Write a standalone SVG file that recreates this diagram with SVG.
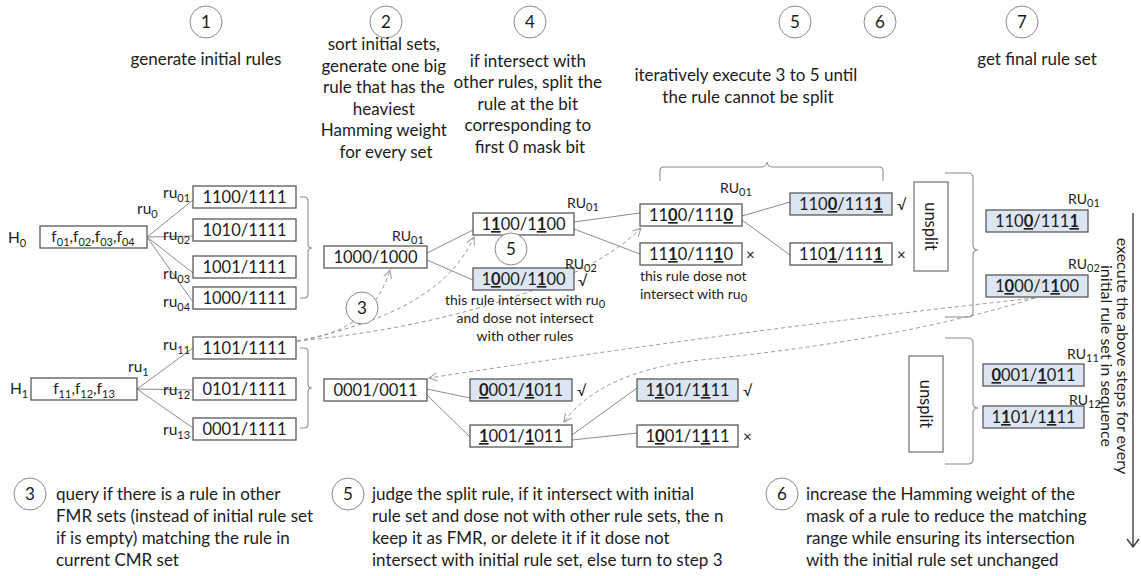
<svg xmlns="http://www.w3.org/2000/svg" width="1141" height="576" viewBox="0 0 1141 576">
  <style>
    text { font-family: Lato, "Open Sans", "Liberation Sans", sans-serif; fill: #1c1c1c; }
    .cap { font-size: 17px; text-anchor: middle; }
    .note { font-size: 17px; }
    .small { font-size: 14px; }
    .lbl { font-size: 15.5px; }
    .lbs { font-size: 11px; }
    .rl { font-size: 16.5px; text-anchor: middle; }
    .u { font-weight: 700; text-decoration: underline; }
    .box { fill: #ffffff; stroke: #595959; stroke-width: 1.3; }
    .hl { fill: #dce6f2; stroke: #595959; stroke-width: 1.3; }
    .step { fill: #ffffff; stroke: #8a8a8a; stroke-width: 1; }
    .stepn { font-size: 17px; text-anchor: middle; }
    .conn { fill: none; stroke: #8c8c8c; stroke-width: 1; }
    .brace { fill: none; stroke: #8c8c8c; stroke-width: 1.1; }
    .dash { fill: none; stroke: #9a9a9a; stroke-width: 1; stroke-dasharray: 4 3; marker-end: url(#open); }
    .mark { font-size: 15px; }
  </style>
  <defs>
    <marker id="open" markerUnits="userSpaceOnUse" markerWidth="12" markerHeight="12" refX="9" refY="5" orient="auto">
      <path d="M1,1 L9,5 L1,9" fill="none" stroke="#9a9a9a" stroke-width="1"/>
    </marker>
  </defs>

  <!-- step numbers and captions -->
  <g id="steps">
    <circle class="step" cx="206" cy="22" r="16"/><text class="stepn" x="206" y="28">1</text>
    <circle class="step" cx="386" cy="22" r="16"/><text class="stepn" x="386" y="28">2</text>
    <circle class="step" cx="530" cy="22" r="16"/><text class="stepn" x="530" y="28">4</text>
    <circle class="step" cx="795" cy="22" r="16"/><text class="stepn" x="795" y="28">5</text>
    <circle class="step" cx="880" cy="22" r="16"/><text class="stepn" x="880" y="28">6</text>
    <circle class="step" cx="1022" cy="22" r="16"/><text class="stepn" x="1022" y="28">7</text>

    <text class="cap" x="206" y="65">generate initial rules</text>
    <text class="cap" x="386">
      <tspan x="386" y="50">sort initial sets,</tspan>
      <tspan x="386" y="72">generate one big</tspan>
      <tspan x="386" y="93">rule that has the</tspan>
      <tspan x="386" y="115">heaviest</tspan>
      <tspan x="386" y="136">Hamming weight</tspan>
      <tspan x="386" y="158">for every set</tspan>
    </text>
    <text class="cap" x="530">
      <tspan x="530" y="67">if intersect with</tspan>
      <tspan x="530" y="88">other rules, split the</tspan>
      <tspan x="530" y="110">rule at the bit</tspan>
      <tspan x="530" y="131">corresponding to</tspan>
      <tspan x="530" y="153">first 0 mask bit</tspan>
    </text>
    <text class="cap" x="748">
      <tspan x="748" y="81">iteratively execute 3 to 5 until</tspan>
      <tspan x="748" y="103">the rule cannot be split</tspan>
    </text>
    <text class="cap" x="1037" y="65">get final rule set</text>
  </g>

  <!-- connectors -->
  <g id="connectors">
    <path class="conn" d="M147,237 L193,200 M147,237 L193,236 M147,237 L193,273 M147,237 L193,302"/>
    <path class="conn" d="M137,389 L193,348 M137,389 L193,390 M137,389 L193,428"/>
    <path class="conn" d="M427,253 L473,230 M427,260 L473,280"/>
    <path class="conn" d="M427,389 L470,398 M427,395 L470,437"/>
    <path class="conn" d="M574,222 L640,213 M574,229 L640,254"/>
    <path class="conn" d="M742,216 L790,202 M742,220 L790,255"/>
    <path class="conn" d="M572,435 L637,388 M572,440 L637,433"/>

    <path class="brace" d="M300,197 H304 Q308,197 308,201 V244 Q308,248 312,248 Q308,248 308,252 V294 Q308,298 304,298 H300"/>
    <path class="brace" d="M300,348 H304 Q308,348 308,352 V384 Q308,388 312,388 Q308,388 308,392 V424 Q308,428 304,428 H300"/>
    <path class="brace" d="M660,181 V171 Q660,167 664,167 H762 Q766,167 767,162 Q768,167 772,167 H879 Q883,167 883,171 V181"/>
    <path class="brace" d="M945,173 H968 Q973,173 973,178 V245 Q973,250 978,250 Q973,250 973,255 V312 Q973,317 968,317 H945"/>
    <path class="brace" d="M945,338 H968 Q973,338 973,343 V403 Q973,408 978,408 Q973,408 973,413 V459 Q973,464 968,464 H945"/>

    <path class="dash" d="M297,341 C340,335 375,318 390,270"/>
    <path class="dash" d="M297,341 C390,322 450,290 474,237"/>
    <path class="dash" d="M297,341 C440,328 585,285 641,228"/>
    <path class="dash" d="M1035,298 Q740,330 429,378"/>
    <path class="dash" d="M1035,298 Q900,340 700,360 Q600,372 564,422"/>

    <path d="M1133,213 V547 M1127,539 L1133,547 L1139,539" fill="none" stroke="#333333" stroke-width="1.3"/>
  </g>

  <!-- initial rule set H0 -->
  <g id="h0">
    <text class="lbl" x="8" y="243">H<tspan class="lbs" dy="4">0</tspan></text>
    <rect class="box" x="40" y="226" width="107" height="22"/>
    <text class="lbl" x="93" y="242" text-anchor="middle">f<tspan class="lbs" dy="4">01</tspan><tspan dy="-4">,f</tspan><tspan class="lbs" dy="4">02</tspan><tspan dy="-4">,f</tspan><tspan class="lbs" dy="4">03</tspan><tspan dy="-4">,f</tspan><tspan class="lbs" dy="4">04</tspan></text>
    <text class="lbl" x="137" y="214">ru<tspan class="lbs" dy="4">0</tspan></text>
  </g>
  <g id="ru01"><text class="lbl" x="163" y="198">ru<tspan class="lbs" dy="4">01</tspan></text><rect class="box" x="193" y="186" width="103" height="22"/><text class="rl" x="244.5" y="203">1100/1111</text></g>
  <g id="ru02"><text class="lbl" x="163" y="240">ru<tspan class="lbs" dy="4">02</tspan></text><rect class="box" x="193" y="219" width="103" height="22"/><text class="rl" x="244.5" y="236">1010/1111</text></g>
  <g id="ru03"><text class="lbl" x="163" y="279">ru<tspan class="lbs" dy="4">03</tspan></text><rect class="box" x="193" y="256" width="103" height="22"/><text class="rl" x="244.5" y="273">1001/1111</text></g>
  <g id="ru04"><text class="lbl" x="163" y="307">ru<tspan class="lbs" dy="4">04</tspan></text><rect class="box" x="193" y="287" width="103" height="22"/><text class="rl" x="244.5" y="304">1000/1111</text></g>

  <!-- initial rule set H1 -->
  <g id="h1">
    <text class="lbl" x="10" y="394">H<tspan class="lbs" dy="4">1</tspan></text>
    <rect class="box" x="31" y="378" width="106" height="22"/>
    <text class="lbl" x="84" y="394" text-anchor="middle">f<tspan class="lbs" dy="4">11</tspan><tspan dy="-4">,f</tspan><tspan class="lbs" dy="4">12</tspan><tspan dy="-4">,f</tspan><tspan class="lbs" dy="4">13</tspan></text>
    <text class="lbl" x="128" y="372">ru<tspan class="lbs" dy="4">1</tspan></text>
  </g>
  <g id="ru11"><text class="lbl" x="163" y="350">ru<tspan class="lbs" dy="4">11</tspan></text><rect class="box" x="193" y="337" width="103" height="22"/><text class="rl" x="244.5" y="354">1101/1111</text></g>
  <g id="ru12"><text class="lbl" x="163" y="395">ru<tspan class="lbs" dy="4">12</tspan></text><rect class="box" x="193" y="378" width="103" height="22"/><text class="rl" x="244.5" y="395">0101/1111</text></g>
  <g id="ru13"><text class="lbl" x="163" y="435">ru<tspan class="lbs" dy="4">13</tspan></text><rect class="box" x="193" y="418" width="103" height="22"/><text class="rl" x="244.5" y="435">0001/1111</text></g>

  <!-- big rules -->
  <g id="big0"><rect class="box" x="324" y="246" width="103" height="22"/><text class="rl" x="375.5" y="263">1000/1000</text><text class="small" x="392" y="241">RU<tspan class="lbs" dy="3">01</tspan></text></g>
  <g id="big1"><rect class="box" x="324" y="379" width="103" height="22"/><text class="rl" x="375.5" y="396">0001/0011</text></g>
  <g id="step3"><circle class="step" cx="362" cy="308" r="16"/><text class="stepn" x="362" y="314">3</text></g>

  <!-- first split -->
  <g id="s1a"><rect class="box" x="473" y="213" width="101" height="22"/><text class="rl" x="523.5" y="230">1<tspan class="u">1</tspan>00/1<tspan class="u">1</tspan>00</text><text class="small" x="567" y="208">RU<tspan class="lbs" dy="3">01</tspan></text></g>
  <g id="step5"><circle class="step" cx="511" cy="249" r="16"/><text class="stepn" x="511" y="255">5</text></g>
  <g id="s1b"><rect class="hl" x="473" y="268" width="101" height="22"/><text class="rl" x="523.5" y="285">1<tspan class="u">0</tspan>00/1<tspan class="u">1</tspan>00</text><text class="small" x="565" y="269">RU<tspan class="lbs" dy="3">02</tspan></text><text class="mark" x="578" y="286">√</text>
    <text class="small" text-anchor="middle"><tspan x="525" y="305">this rule intersect with ru<tspan class="lbs" dy="3">0</tspan></tspan><tspan x="525" y="323">and dose not intersect</tspan><tspan x="525" y="341">with other rules</tspan></text>
  </g>
  <g id="s1c"><rect class="hl" x="470" y="379" width="102" height="22"/><text class="rl" x="521" y="396"><tspan class="u">0</tspan>001/<tspan class="u">1</tspan>011</text><text class="mark" x="577" y="396">√</text></g>
  <g id="s1d"><rect class="box" x="470" y="425" width="102" height="22"/><text class="rl" x="521" y="442"><tspan class="u">1</tspan>001/<tspan class="u">1</tspan>011</text></g>

  <!-- second split -->
  <g id="s2a"><rect class="box" x="640" y="204" width="102" height="22"/><text class="rl" x="691" y="221">11<tspan class="u">0</tspan>0/111<tspan class="u">0</tspan></text><text class="small" x="720" y="193">RU<tspan class="lbs" dy="3">01</tspan></text></g>
  <g id="s2b"><rect class="box" x="640" y="243" width="102" height="22"/><text class="rl" x="691" y="260">11<tspan class="u">1</tspan>0/11<tspan class="u">1</tspan>0</text><text class="mark" x="746" y="260">×</text>
    <text class="small"><tspan x="640" y="281">this rule dose not</tspan><tspan x="640" y="299">intersect with ru<tspan class="lbs" dy="3">0</tspan></tspan></text>
  </g>
  <g id="s2c"><rect class="hl" x="637" y="379" width="101" height="22"/><text class="rl" x="687.5" y="396">1<tspan class="u">1</tspan>01/1<tspan class="u">1</tspan>11</text><text class="mark" x="743" y="396">√</text></g>
  <g id="s2d"><rect class="box" x="637" y="425" width="101" height="22"/><text class="rl" x="687.5" y="442">1<tspan class="u">0</tspan>01/1<tspan class="u">1</tspan>11</text><text class="mark" x="743" y="442">×</text></g>

  <!-- third split -->
  <g id="s3a"><rect class="hl" x="790" y="193" width="102" height="22"/><text class="rl" x="841" y="210">110<tspan class="u">0</tspan>/111<tspan class="u">1</tspan></text><text class="mark" x="897" y="210">√</text></g>
  <g id="s3b"><rect class="box" x="790" y="243" width="102" height="22"/><text class="rl" x="841" y="260">110<tspan class="u">1</tspan>/111<tspan class="u">1</tspan></text><text class="mark" x="897" y="260">×</text></g>

  <!-- unsplit markers -->
  <g id="unsplit0"><rect class="box" x="914" y="182" width="34" height="89" style="stroke:#7a7a7a"/><text class="rl" transform="translate(925,226.5) rotate(90)">unsplit</text></g>
  <g id="unsplit1"><rect class="box" x="909" y="356" width="34" height="96" style="stroke:#7a7a7a"/><text class="rl" transform="translate(920,404) rotate(90)">unsplit</text></g>

  <!-- final rule set -->
  <g id="fin01"><rect class="hl" x="986" y="210" width="102" height="22"/><text class="rl" x="1037" y="227">110<tspan class="u">0</tspan>/111<tspan class="u">1</tspan></text><text class="small" x="1068" y="204">RU<tspan class="lbs" dy="3">01</tspan></text></g>
  <g id="fin02"><rect class="hl" x="986" y="275" width="102" height="22"/><text class="rl" x="1037" y="292">1<tspan class="u">0</tspan>00/1<tspan class="u">1</tspan>00</text><text class="small" x="1068" y="269">RU<tspan class="lbs" dy="3">02</tspan></text></g>
  <g id="fin11"><rect class="hl" x="983" y="364" width="101" height="22"/><text class="rl" x="1033.5" y="381"><tspan class="u">0</tspan>001/<tspan class="u">1</tspan>011</text><text class="small" x="1067" y="359">RU<tspan class="lbs" dy="3">11</tspan></text></g>
  <g id="fin12"><rect class="hl" x="983" y="406" width="101" height="22"/><text class="rl" x="1033.5" y="423">1<tspan class="u">1</tspan>01/1<tspan class="u">1</tspan>11</text><text class="small" x="1069" y="405">RU<tspan class="lbs" dy="3">12</tspan></text></g>

  <!-- repeat note -->
  <g id="repeat">
    <text class="note" text-anchor="middle" transform="translate(1117,356) rotate(90)" style="font-size:16px">execute the above steps for every</text>
    <text class="note" text-anchor="middle" transform="translate(1101,356) rotate(90)" style="font-size:16px">initial rule set in sequence</text>
  </g>

  <!-- legend -->
  <g id="legend">
    <circle class="step" cx="30" cy="494" r="16"/><text class="stepn" x="30" y="500">3</text>
    <text class="note"><tspan x="56" y="500">query if there is a rule in other</tspan><tspan x="56" y="522">FMR sets (instead of initial rule set</tspan><tspan x="56" y="544">if is empty) matching the rule in</tspan><tspan x="56" y="566">current CMR set</tspan></text>
    <circle class="step" cx="348" cy="494" r="16"/><text class="stepn" x="348" y="500">5</text>
    <text class="note"><tspan x="372" y="500">judge the split rule, if it intersect with initial</tspan><tspan x="372" y="522">rule set and dose not with other rule sets, the n</tspan><tspan x="372" y="544">keep it as FMR, or delete it if it dose not</tspan><tspan x="372" y="566">intersect with initial rule set, else turn to step 3</tspan></text>
    <circle class="step" cx="782" cy="494" r="16"/><text class="stepn" x="782" y="500">6</text>
    <text class="note"><tspan x="806" y="500">increase the Hamming weight of the</tspan><tspan x="806" y="522">mask of a rule to reduce the matching</tspan><tspan x="806" y="544">range while ensuring its intersection</tspan><tspan x="806" y="566">with the initial rule set unchanged</tspan></text>
  </g>
</svg>
